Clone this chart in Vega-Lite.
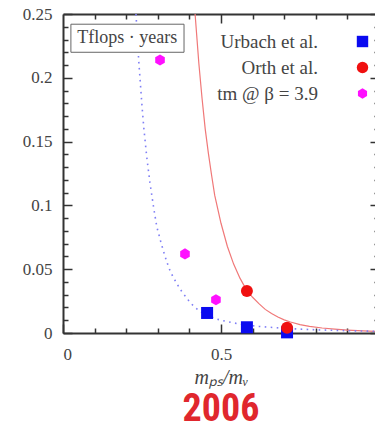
{
  "$schema": "https://vega.github.io/schema/vega-lite/v6.json",
  "width": 316,
  "height": 319,
  "autosize": {"type": "none"},
  "padding": {"left": 63, "top": 14, "right": 0, "bottom": 91},
  "background": "white",
  "title": {
    "text": "2006",
    "orient": "bottom",
    "anchor": "middle",
    "font": "Liberation Sans Narrow, Roboto Condensed, Liberation Sans",
    "fontWeight": "bold",
    "fontSize": 38,
    "color": "#e0272d",
    "offset": 4
  },
  "datasets": {
    "orth_fit": [
      {"ratio": 0.418, "cost": 0.25},
      {"ratio": 0.43, "cost": 0.211},
      {"ratio": 0.44, "cost": 0.184},
      {"ratio": 0.45, "cost": 0.16},
      {"ratio": 0.46, "cost": 0.141},
      {"ratio": 0.47, "cost": 0.124},
      {"ratio": 0.48, "cost": 0.108},
      {"ratio": 0.5, "cost": 0.086},
      {"ratio": 0.52, "cost": 0.068},
      {"ratio": 0.54, "cost": 0.054},
      {"ratio": 0.56, "cost": 0.043},
      {"ratio": 0.58, "cost": 0.034},
      {"ratio": 0.6, "cost": 0.028},
      {"ratio": 0.62, "cost": 0.023},
      {"ratio": 0.64, "cost": 0.0185},
      {"ratio": 0.66, "cost": 0.0152},
      {"ratio": 0.68, "cost": 0.0125},
      {"ratio": 0.7, "cost": 0.0103},
      {"ratio": 0.72, "cost": 0.0086},
      {"ratio": 0.75, "cost": 0.0066},
      {"ratio": 0.78, "cost": 0.0052},
      {"ratio": 0.82, "cost": 0.0039},
      {"ratio": 0.86, "cost": 0.003},
      {"ratio": 0.9, "cost": 0.0023},
      {"ratio": 0.95, "cost": 0.0017},
      {"ratio": 1.0, "cost": 0.0012}
    ],
    "urbach_fit": [
      {"ratio": 0.231, "cost": 0.25},
      {"ratio": 0.24, "cost": 0.212},
      {"ratio": 0.25, "cost": 0.178},
      {"ratio": 0.256, "cost": 0.16},
      {"ratio": 0.265, "cost": 0.138},
      {"ratio": 0.275, "cost": 0.118},
      {"ratio": 0.287, "cost": 0.098},
      {"ratio": 0.297, "cost": 0.083},
      {"ratio": 0.31, "cost": 0.071},
      {"ratio": 0.323, "cost": 0.06},
      {"ratio": 0.335, "cost": 0.051},
      {"ratio": 0.348, "cost": 0.044},
      {"ratio": 0.362, "cost": 0.038},
      {"ratio": 0.377, "cost": 0.032},
      {"ratio": 0.39, "cost": 0.028},
      {"ratio": 0.402, "cost": 0.024},
      {"ratio": 0.418, "cost": 0.02},
      {"ratio": 0.434, "cost": 0.017},
      {"ratio": 0.456, "cost": 0.0138},
      {"ratio": 0.48, "cost": 0.0115},
      {"ratio": 0.5, "cost": 0.01},
      {"ratio": 0.538, "cost": 0.008},
      {"ratio": 0.57, "cost": 0.0066},
      {"ratio": 0.62, "cost": 0.0052},
      {"ratio": 0.67, "cost": 0.0042},
      {"ratio": 0.72, "cost": 0.0034},
      {"ratio": 0.8, "cost": 0.0025},
      {"ratio": 0.9, "cost": 0.0018},
      {"ratio": 1.0, "cost": 0.0013}
    ],
    "measurements": [
      {"series": "Urbach et al.", "ratio": 0.456, "cost": 0.0157},
      {"series": "Urbach et al.", "ratio": 0.582, "cost": 0.0045},
      {"series": "Urbach et al.", "ratio": 0.709, "cost": 0.0005},
      {"series": "Orth et al.", "ratio": 0.582, "cost": 0.033},
      {"series": "Orth et al.", "ratio": 0.709, "cost": 0.0042},
      {"series": "tm @ β = 3.9", "ratio": 0.307, "cost": 0.214},
      {"series": "tm @ β = 3.9", "ratio": 0.386, "cost": 0.062},
      {"series": "tm @ β = 3.9", "ratio": 0.484, "cost": 0.026}
    ],
    "unit_label": [
      {"label": "Tflops · years"}
    ]
  },
  "layer": [
    {
      "data": {"name": "orth_fit"},
      "mark": {"type": "line", "color": "#f07878", "strokeWidth": 1.2, "clip": true},
      "encoding": {
        "x": {
          "field": "ratio", "type": "quantitative",
          "scale": {"domain": [0, 1], "nice": false, "zero": false},
          "axis": {
            "orient": "bottom", "values": [0, 0.5], "format": "~g",
            "tickSize": -9, "labelPadding": 22,
            "title": "mₚₛ/mᵥ", "titleFontStyle": "italic", "titleFontSize": 20,
            "titleFontWeight": "normal", "titleColor": "#444", "titlePadding": 5
          }
        },
        "y": {
          "field": "cost", "type": "quantitative",
          "scale": {"domain": [0, 0.25], "nice": false, "zero": false},
          "axis": {
            "orient": "left", "values": [0, 0.05, 0.1, 0.15, 0.2, 0.25], "format": "~g",
            "tickSize": -9, "labelPadding": 20, "title": null
          }
        }
      }
    },
    {
      "data": {"name": "urbach_fit"},
      "mark": {"type": "line", "color": "#7f7ff5", "strokeWidth": 1.6, "strokeDash": [1.6, 4.4], "clip": true},
      "encoding": {
        "x": {
          "field": "ratio", "type": "quantitative",
          "scale": {"domain": [0, 1], "nice": false, "zero": false},
          "axis": {
            "orient": "bottom", "values": [0.1, 0.2, 0.3, 0.4, 0.6, 0.7, 0.8, 0.9],
            "tickSize": -5, "labels": false, "domain": false, "title": null
          }
        },
        "y": {
          "field": "cost", "type": "quantitative",
          "scale": {"domain": [0, 0.25], "nice": false, "zero": false},
          "axis": {
            "orient": "left",
            "values": [0.01, 0.02, 0.03, 0.04, 0.06, 0.07, 0.08, 0.09, 0.11, 0.12, 0.13, 0.14, 0.16, 0.17, 0.18, 0.19, 0.21, 0.22, 0.23, 0.24],
            "tickSize": -5, "labels": false, "domain": false, "title": null
          }
        }
      }
    },
    {
      "data": {"name": "measurements"},
      "mark": {"type": "point", "filled": true, "opacity": 1, "size": 144},
      "encoding": {
        "x": {
          "field": "ratio", "type": "quantitative",
          "scale": {"domain": [0, 1], "nice": false, "zero": false},
          "axis": {
            "orient": "top", "values": [0.1, 0.2, 0.3, 0.4, 0.6, 0.7, 0.8, 0.9],
            "tickSize": -5, "labels": false, "domain": false, "title": null
          }
        },
        "y": {
          "field": "cost", "type": "quantitative",
          "scale": {"domain": [0, 0.25], "nice": false, "zero": false},
          "axis": {
            "orient": "right",
            "values": [0.01, 0.02, 0.03, 0.04, 0.06, 0.07, 0.08, 0.09, 0.11, 0.12, 0.13, 0.14, 0.16, 0.17, 0.18, 0.19, 0.21, 0.22, 0.23, 0.24],
            "tickSize": -5, "labels": false, "domain": false, "title": null
          }
        },
        "color": {
          "field": "series", "type": "nominal",
          "scale": {
            "domain": ["Urbach et al.", "Orth et al.", "tm @ β = 3.9"],
            "range": ["#0a0af0", "#f01010", "#ff10ff"]
          },
          "legend": {
            "title": null, "orient": "none", "legendX": 290, "legendY": 18,
            "padding": 0, "rowPadding": 6, "symbolSize": 130, "symbolStrokeWidth": 0,
            "labelFont": "Liberation Serif", "labelFontSize": 19, "labelColor": "#444",
            "labelAlign": "right", "labelOffset": -54
          }
        },
        "shape": {
          "field": "series", "type": "nominal",
          "scale": {
            "domain": ["Urbach et al.", "Orth et al.", "tm @ β = 3.9"],
            "range": ["square", "circle", "M0,-0.92L0.8,-0.46L0.8,0.46L0,0.92L-0.8,0.46L-0.8,-0.46Z"]
          },
          "legend": {
            "title": null, "orient": "none", "legendX": 290, "legendY": 18,
            "padding": 0, "rowPadding": 6, "symbolSize": 130, "symbolStrokeWidth": 0,
            "labelFont": "Liberation Serif", "labelFontSize": 19, "labelColor": "#444",
            "labelAlign": "right", "labelOffset": -54
          }
        }
      }
    },
    {
      "data": {"name": "unit_label"},
      "mark": {"type": "rect", "fill": "white", "stroke": "#666", "strokeWidth": 1},
      "encoding": {
        "x": {
          "datum": 0.025, "type": "quantitative",
          "scale": {"domain": [0, 1], "nice": false, "zero": false},
          "axis": {
            "orient": "top", "values": [0.5], "tickSize": -9,
            "labels": false, "title": null
          }
        },
        "x2": {"datum": 0.383},
        "y": {
          "datum": 0.242, "type": "quantitative",
          "scale": {"domain": [0, 0.25], "nice": false, "zero": false},
          "axis": {
            "orient": "right", "values": [0, 0.05, 0.1, 0.15, 0.2, 0.25],
            "tickSize": -9, "labels": false, "title": null
          }
        },
        "y2": {"datum": 0.22}
      }
    },
    {
      "data": {"name": "unit_label"},
      "mark": {"type": "text", "font": "Liberation Serif", "fontSize": 18, "color": "#444", "align": "center", "baseline": "middle"},
      "encoding": {
        "x": {"datum": 0.203, "type": "quantitative", "axis": null},
        "y": {"datum": 0.2315, "type": "quantitative", "axis": null},
        "text": {"field": "label"}
      }
    }
  ],
  "resolve": {"axis": {"x": "independent", "y": "independent"}},
  "config": {
    "view": {"stroke": null},
    "axis": {
      "grid": false,
      "domainColor": "#333",
      "domainWidth": 2,
      "tickColor": "#333",
      "tickWidth": 1.5,
      "labelFont": "Liberation Serif",
      "labelFontSize": 17,
      "labelColor": "#444",
      "titleFont": "Liberation Serif"
    }
  }
}
